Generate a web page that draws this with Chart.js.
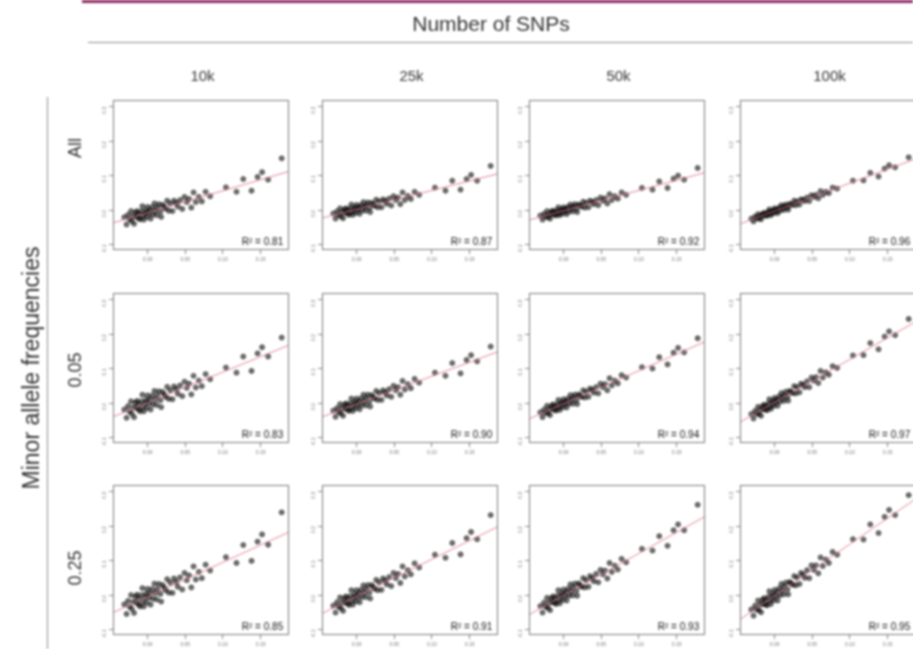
<!DOCTYPE html>
<html>
<head>
<meta charset="utf-8">
<script src="https://cdn.jsdelivr.net/npm/chart.js@4.4.1/dist/chart.umd.min.js"></script>
<style>
  html, body { margin: 0; padding: 0; background: #fff; }
  body { width: 913px; height: 649px; overflow: hidden; position: relative;
         font-family: "Liberation Sans", Arial, sans-serif; color: #333; }
  #fig { position: absolute; left: 0; top: 0; width: 913px; height: 649px; filter: blur(0.8px); }
  .bar { position: absolute; left: 82px; right: 0; top: 0; height: 3px; background: #8e2a63; }
  .rule-h { position: absolute; left: 88px; right: 0; top: 42px; height: 1px; background: #8a8a8a; }
  .rule-v { position: absolute; left: 47px; top: 97px; bottom: 0; width: 1px; background: #8a8a8a; }
  .lbl { position: absolute; white-space: nowrap; transform: translate(-50%, -50%); }
  .rot { transform: translate(-50%, -50%) rotate(-90deg); }
  canvas { position: absolute; }
</style>
</head>
<body>
<div id="fig">
  <div class="bar"></div>
  <div class="lbl" style="left:491px;top:24px;font-size:21px">Number of SNPs</div>
  <div class="rule-h"></div>
  <div class="rule-v"></div>
  <div class="lbl rot" style="left:31px;top:368px;font-size:23px">Minor allele frequencies</div>
</div>
<script>
// ─── Data ─────────────────────────────────────────────────
const snpLabels = ['10k', '25k', '50k', '100k'];
const mafLabels = ['All', '0.05', '0.25'];
const xTicks = [0, 0.05, 0.10, 0.15];
const yTicks = [-0.1, 0, 0.1, 0.2, 0.3];

// x: true values, shared by every panel
const trueBV = [
  -0.031, -0.028, -0.026, -0.024, -0.022, -0.021, -0.019, -0.018, -0.016, -0.015,
  -0.014, -0.012, -0.011, -0.010, -0.008, -0.007, -0.006, -0.005, -0.003, -0.002,
  -0.001, 0.000, 0.002, 0.003, 0.004, 0.006, 0.007, 0.009, 0.010, 0.012,
  0.013, 0.015, 0.017, 0.018, 0.020, 0.022, 0.024, 0.026, 0.028, 0.030,
  0.033, 0.035, 0.038, 0.040, 0.043, 0.046, 0.049, 0.052, 0.055, 0.058,
  0.061, 0.064, 0.068, 0.072, 0.077, 0.083, 0.104, 0.118, 0.127, 0.138,
  0.146, 0.152, 0.160, 0.178
];

// y: estimates, MAF = All
const estAll10k = [
  -0.021, -0.042, -0.014, -0.027, -0.003, -0.032, -0.018, -0.040, -0.007, -0.019,
  -0.003, -0.024, -0.011, -0.027, -0.004, 0.011, -0.017, -0.028, -0.009, -0.002,
  -0.020, 0.009, -0.009, -0.001, -0.025, 0.008, -0.013, 0.019, -0.002, -0.015,
  0.007, 0.017, -0.004, -0.020, 0.015, 0.009, 0.004, 0.027, -0.002, 0.019,
  -0.003, 0.027, 0.020, 0.010, 0.029, 0.003, 0.038, 0.023, 0.032, 0.007,
  0.051, 0.023, 0.038, 0.025, 0.053, 0.040, 0.066, 0.053, 0.090, 0.056,
  0.096, 0.110, 0.088, 0.150
];
const estAll25k = [
  -0.010, -0.025, -0.004, -0.014, 0.005, -0.018, -0.006, -0.024, 0.002, -0.007,
  0.005, -0.011, -0.001, -0.014, 0.005, 0.016, -0.005, -0.014, 0.001, 0.007,
  -0.008, 0.015, 0.001, 0.008, -0.011, 0.014, -0.001, 0.023, 0.008, -0.002,
  0.014, 0.022, 0.006, -0.006, 0.021, 0.016, 0.012, 0.030, 0.008, 0.025,
  0.008, 0.031, 0.026, 0.018, 0.033, 0.013, 0.040, 0.029, 0.036, 0.017,
  0.051, 0.029, 0.041, 0.032, 0.053, 0.044, 0.065, 0.056, 0.085, 0.059,
  0.090, 0.102, 0.085, 0.128
];
const estAll50k = [
  -0.016, -0.028, -0.011, -0.019, -0.003, -0.021, -0.012, -0.025, -0.004, -0.012,
  -0.002, -0.014, -0.006, -0.016, -0.001, 0.008, -0.009, -0.015, -0.003, 0.002,
  -0.010, 0.008, -0.002, 0.003, -0.012, 0.009, -0.004, 0.016, 0.004, -0.004,
  0.010, 0.017, 0.004, -0.006, 0.016, 0.013, 0.010, 0.024, 0.007, 0.021,
  0.008, 0.027, 0.023, 0.017, 0.029, 0.014, 0.036, 0.027, 0.034, 0.019,
  0.046, 0.029, 0.040, 0.033, 0.051, 0.044, 0.064, 0.059, 0.083, 0.064,
  0.091, 0.100, 0.088, 0.122
];
const estAll100k = [
  -0.025, -0.033, -0.019, -0.024, -0.012, -0.025, -0.017, -0.027, -0.011, -0.016,
  -0.008, -0.016, -0.010, -0.017, -0.005, 0.002, -0.010, -0.015, -0.005, -0.001,
  -0.009, 0.005, -0.003, 0.002, -0.009, 0.007, -0.002, 0.014, 0.005, 0.000,
  0.011, 0.016, 0.008, 0.001, 0.018, 0.016, 0.015, 0.027, 0.014, 0.025,
  0.016, 0.031, 0.030, 0.026, 0.036, 0.026, 0.043, 0.038, 0.044, 0.034,
  0.055, 0.044, 0.053, 0.049, 0.065, 0.062, 0.085, 0.086, 0.108, 0.097,
  0.120, 0.130, 0.124, 0.153
];

// y: estimates, MAF = 0.05
const est05_10k = [
  -0.019, -0.043, -0.009, -0.025, 0.005, -0.031, -0.013, -0.041, 0.001, -0.014,
  0.006, -0.019, -0.004, -0.024, 0.005, 0.024, -0.011, -0.024, 0.000, 0.009,
  -0.014, 0.022, 0.000, 0.010, -0.019, 0.021, -0.004, 0.035, 0.010, -0.006,
  0.021, 0.034, 0.008, -0.012, 0.032, 0.024, 0.018, 0.047, 0.012, 0.037,
  0.011, 0.048, 0.040, 0.027, 0.051, 0.020, 0.062, 0.044, 0.056, 0.025,
  0.079, 0.045, 0.065, 0.049, 0.084, 0.069, 0.103, 0.088, 0.135, 0.093,
  0.144, 0.162, 0.135, 0.190
];
const est05_25k = [
  -0.022, -0.040, -0.015, -0.026, -0.003, -0.030, -0.016, -0.037, -0.005, -0.016,
  -0.001, -0.020, -0.008, -0.023, -0.001, 0.013, -0.013, -0.023, -0.004, 0.003,
  -0.015, 0.013, -0.004, 0.004, -0.018, 0.013, -0.006, 0.024, 0.005, -0.007,
  0.014, 0.024, 0.005, -0.010, 0.023, 0.017, 0.013, 0.035, 0.009, 0.029,
  0.009, 0.037, 0.031, 0.022, 0.040, 0.018, 0.050, 0.037, 0.046, 0.024,
  0.064, 0.039, 0.055, 0.043, 0.070, 0.059, 0.088, 0.079, 0.116, 0.086,
  0.125, 0.139, 0.121, 0.164
];
const est05_50k = [
  -0.027, -0.041, -0.019, -0.028, -0.008, -0.030, -0.018, -0.035, -0.008, -0.017,
  -0.004, -0.020, -0.010, -0.022, -0.003, 0.009, -0.012, -0.020, -0.004, 0.002,
  -0.012, 0.011, -0.002, 0.005, -0.013, 0.013, -0.002, 0.023, 0.008, -0.002,
  0.016, 0.024, 0.009, -0.003, 0.025, 0.021, 0.018, 0.037, 0.016, 0.033,
  0.018, 0.042, 0.038, 0.030, 0.046, 0.028, 0.056, 0.046, 0.055, 0.037,
  0.072, 0.051, 0.065, 0.057, 0.081, 0.074, 0.104, 0.100, 0.133, 0.112,
  0.146, 0.160, 0.147, 0.188
];
const est05_100k = [
  -0.032, -0.045, -0.023, -0.031, -0.011, -0.032, -0.020, -0.037, -0.009, -0.018,
  -0.005, -0.019, -0.009, -0.021, -0.001, 0.011, -0.010, -0.017, -0.001, 0.006,
  -0.008, 0.015, 0.003, 0.010, -0.008, 0.019, 0.004, 0.029, 0.015, 0.006,
  0.023, 0.033, 0.018, 0.007, 0.035, 0.032, 0.029, 0.049, 0.028, 0.046,
  0.031, 0.056, 0.053, 0.046, 0.063, 0.046, 0.074, 0.065, 0.075, 0.058,
  0.093, 0.074, 0.089, 0.082, 0.107, 0.102, 0.138, 0.139, 0.174, 0.156,
  0.193, 0.208, 0.197, 0.244
];

// y: estimates, MAF = 0.25
const est25_10k = [
  -0.027, -0.055, -0.017, -0.034, 0.000, -0.040, -0.020, -0.052, -0.005, -0.022,
  0.001, -0.028, -0.011, -0.033, 0.000, 0.020, -0.018, -0.033, -0.006, 0.004,
  -0.022, 0.018, -0.007, 0.005, -0.028, 0.017, -0.011, 0.033, 0.005, -0.013,
  0.017, 0.032, 0.003, -0.019, 0.029, 0.021, 0.014, 0.046, 0.007, 0.036,
  0.006, 0.048, 0.038, 0.024, 0.051, 0.016, 0.064, 0.043, 0.057, 0.022,
  0.083, 0.045, 0.067, 0.049, 0.088, 0.071, 0.110, 0.093, 0.145, 0.099,
  0.155, 0.176, 0.146, 0.240
];
const est25_25k = [
  -0.031, -0.051, -0.021, -0.034, -0.007, -0.038, -0.022, -0.046, -0.009, -0.022,
  -0.004, -0.025, -0.012, -0.029, -0.003, 0.014, -0.016, -0.028, -0.006, 0.002,
  -0.018, 0.014, -0.005, 0.005, -0.021, 0.015, -0.006, 0.028, 0.007, -0.006,
  0.017, 0.029, 0.007, -0.010, 0.029, 0.023, 0.018, 0.044, 0.014, 0.037,
  0.015, 0.048, 0.041, 0.031, 0.052, 0.026, 0.064, 0.049, 0.061, 0.035,
  0.083, 0.054, 0.072, 0.060, 0.092, 0.080, 0.117, 0.108, 0.151, 0.118,
  0.165, 0.183, 0.162, 0.232
];
const est25_50k = [
  -0.032, -0.051, -0.022, -0.034, -0.008, -0.037, -0.022, -0.044, -0.009, -0.021,
  -0.004, -0.023, -0.011, -0.026, -0.002, 0.014, -0.014, -0.024, -0.003, 0.004,
  -0.014, 0.016, -0.001, 0.008, -0.016, 0.018, -0.002, 0.031, 0.011, -0.001,
  0.021, 0.033, 0.013, -0.002, 0.034, 0.028, 0.024, 0.049, 0.022, 0.043,
  0.024, 0.055, 0.049, 0.040, 0.061, 0.037, 0.073, 0.060, 0.071, 0.048,
  0.093, 0.067, 0.085, 0.074, 0.105, 0.095, 0.134, 0.129, 0.171, 0.143,
  0.188, 0.205, 0.188, 0.262
];
const est25_100k = [
  -0.042, -0.060, -0.031, -0.042, -0.016, -0.044, -0.028, -0.050, -0.014, -0.026,
  -0.009, -0.028, -0.015, -0.030, -0.005, 0.011, -0.016, -0.026, -0.005, 0.003,
  -0.015, 0.015, -0.002, 0.008, -0.016, 0.019, -0.001, 0.032, 0.013, 0.002,
  0.024, 0.036, 0.017, 0.002, 0.038, 0.034, 0.030, 0.055, 0.028, 0.051,
  0.032, 0.064, 0.059, 0.050, 0.072, 0.049, 0.086, 0.073, 0.086, 0.063,
  0.109, 0.084, 0.103, 0.093, 0.125, 0.117, 0.162, 0.161, 0.205, 0.180,
  0.227, 0.247, 0.232, 0.290
];

// fitted regression lines and R² per panel
const slopeAll = [0.64, 0.55, 0.59, 0.81];
const slope05 = [0.89, 0.81, 0.96, 1.25];
const slope25 = [1.00, 1.08, 1.22, 1.50];
const interceptAll = [-0.008, 0.002, -0.002, -0.003];
const intercept05 = [0.001, -0.003, -0.002, 0.002];
const intercept25 = [-0.005, -0.004, -0.001, -0.002];
const r2All = [0.81, 0.87, 0.92, 0.96];
const r2Maf05 = [0.83, 0.90, 0.94, 0.97];
const r2Maf25 = [0.85, 0.91, 0.93, 0.95];

const estimates = [
  [estAll10k, estAll25k, estAll50k, estAll100k],
  [est05_10k, est05_25k, est05_50k, est05_100k],
  [est25_10k, est25_25k, est25_50k, est25_100k]
];
const slopes = [slopeAll, slope05, slope25];
const intercepts = [interceptAll, intercept05, intercept25];
const rSquared = [r2All, r2Maf05, r2Maf25];

// ─── Layout ───────────────────────────────────────────────
const colLeft = [113, 322, 529, 740];
const rowTop = [97, 290, 482];
const BOX_W = 179, BOX_H = 153;
const PAD = { left: 22, right: 2, top: 2, bottom: 18 };
const X_MIN = -0.046, X_MAX = 0.188;
const Y_MIN = -0.116, Y_MAX = 0.32;
const FONT = '"Liberation Sans", Arial, sans-serif';

const fig = document.getElementById('fig');

function addLabel(text, x, y, size, rotate) {
  const d = document.createElement('div');
  d.className = rotate ? 'lbl rot' : 'lbl';
  d.style.left = x + 'px';
  d.style.top = y + 'px';
  d.style.fontSize = size + 'px';
  d.textContent = text;
  fig.appendChild(d);
}

snpLabels.forEach((t, c) => addLabel(t, colLeft[c] + BOX_W / 2, 75, 15, false));
const rowLabelY = [148, 370, 568];
mafLabels.forEach((t, r) => addLabel(t, 75, rowLabelY[r], 18, true));

// ─── Plugin: R-style box + R² text ────────────────────────
const panelFrame = {
  id: 'panelFrame',
  afterDraw(chart, args, opts) {
    const { ctx, chartArea: a } = chart;
    ctx.save();
    ctx.strokeStyle = '#777';
    ctx.lineWidth = 1;
    ctx.strokeRect(Math.round(a.left) + 0.5, Math.round(a.top) + 0.5,
                   Math.round(a.width) - 1, Math.round(a.height) - 1);
    ctx.font = '10px ' + FONT;
    ctx.fillStyle = '#111';
    ctx.textAlign = 'right';
    ctx.textBaseline = 'alphabetic';
    ctx.fillText(opts.label, a.right - 6, a.bottom - 5);
    ctx.restore();
  }
};

function axisGrid() {
  return { drawOnChartArea: false, drawTicks: true, tickLength: 4, color: '#888', lineWidth: 1 };
}

// keep the plot box exactly where the layout wants it
function noAutoPadding(s) {
  s.paddingLeft = 0; s.paddingRight = 0; s.paddingTop = 0; s.paddingBottom = 0;
}

// ─── Panels ───────────────────────────────────────────────
function makePanel(r, c) {
  const cv = document.createElement('canvas');
  cv.width = PAD.left + BOX_W + PAD.right;
  cv.height = PAD.top + BOX_H + PAD.bottom;
  cv.style.left = (colLeft[c] - PAD.left) + 'px';
  cv.style.top = (rowTop[r] - PAD.top) + 'px';
  fig.appendChild(cv);

  const ys = estimates[r][c];
  const pts = trueBV.map((x, i) => ({ x, y: ys[i] }));
  const a = intercepts[r][c], b = slopes[r][c];
  const fit = [X_MIN, X_MAX].map(x => ({ x, y: a + b * x }));

  new Chart(cv, {
    type: 'scatter',
    data: {
      datasets: [
        { data: fit, showLine: true, borderColor: 'rgba(222,120,140,0.9)', borderWidth: 1,
          pointRadius: 0, order: 0 },
        { data: pts, pointRadius: 2.4, backgroundColor: 'rgba(0,0,0,0.55)',
          borderColor: 'rgba(0,0,0,0.75)', borderWidth: 0.8, order: 1 }
      ]
    },
    options: {
      responsive: false, animation: false, devicePixelRatio: 1,
      layout: { padding: { top: PAD.top, right: PAD.right, left: 0, bottom: 0 } },
      plugins: {
        legend: { display: false },
        tooltip: { enabled: false },
        panelFrame: { label: 'R\u00b2 = ' + rSquared[r][c].toFixed(2) }
      },
      scales: {
        x: {
          type: 'linear', min: X_MIN, max: X_MAX,
          afterBuildTicks: s => { s.ticks = xTicks.map(v => ({ value: v })); },
          afterFit: s => { s.height = PAD.bottom; noAutoPadding(s); },
          grid: axisGrid(), border: { display: false },
          ticks: { font: { size: 5, family: FONT }, color: '#777', padding: 3,
                   maxRotation: 0, callback: v => v.toFixed(2) }
        },
        y: {
          type: 'linear', min: Y_MIN, max: Y_MAX,
          afterBuildTicks: s => { s.ticks = yTicks.map(v => ({ value: v })); },
          afterFit: s => { s.width = PAD.left; noAutoPadding(s); },
          grid: axisGrid(), border: { display: false },
          ticks: { font: { size: 5, family: FONT }, color: '#777', padding: 4,
                   minRotation: 90, maxRotation: 90, callback: v => v.toFixed(1) }
        }
      }
    },
    plugins: [panelFrame]
  });
}

for (let r = 0; r < 3; r++) {
  for (let c = 0; c < 4; c++) makePanel(r, c);
}
</script>
</body>
</html>
